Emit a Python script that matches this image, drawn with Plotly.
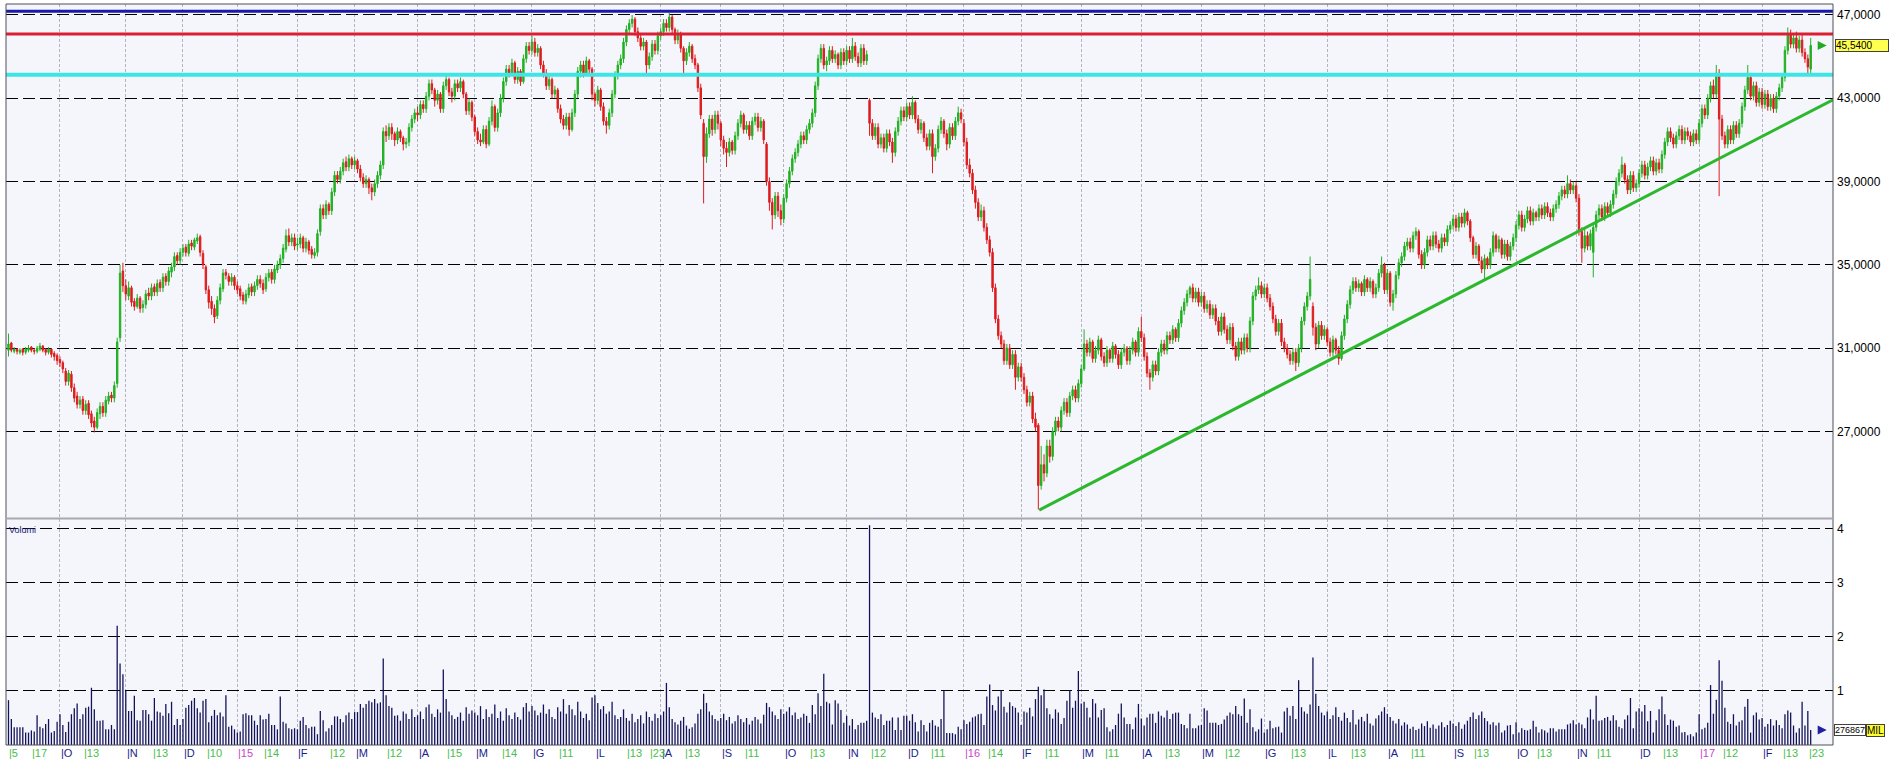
import plotly.graph_objects as go

# ---------------- DATA ----------------
month_names = ["2014-09", "2014-10", "2014-11", "2014-12", "2015-01", "2015-02", "2015-03", "2015-04",
               "2015-05", "2015-06", "2015-07", "2015-08", "2015-09", "2015-10", "2015-11", "2015-12",
               "2016-01", "2016-02", "2016-03", "2016-04", "2016-05", "2016-06", "2016-07", "2016-08",
               "2016-09", "2016-10", "2016-11", "2016-12", "2017-01", "2017-02"]
month_letters = ["", "O", "N", "D", "15", "F", "M", "A", "M", "G", "L", "A", "S", "O", "N", "D",
                 "16", "F", "M", "A", "M", "G", "L", "A", "S", "O", "N", "D", "17", "F"]
year_marks = ["15", "16", "17"]

close_px = [
    [31.20, 30.90, 30.95, 30.85, 30.90, 30.80, 30.95, 31.00, 30.90, 30.85, 31.00, 31.10, 30.90, 30.80, 30.95, 30.70, 30.60, 30.40],
    [30.30, 30.00, 29.40, 29.80, 29.10, 28.60, 28.30, 28.50, 28.00, 28.30, 27.80, 27.40, 27.20, 27.90, 28.20, 27.90, 28.50, 28.70, 28.60, 29.20, 31.30, 34.60, 34.00],
    [33.60, 33.90, 33.20, 33.00, 33.40, 32.90, 33.10, 33.60, 33.50, 33.90, 33.70, 34.10, 33.90, 34.40, 34.20, 34.70, 34.90, 35.40, 35.20, 35.60],
    [35.80, 35.60, 36.00, 35.90, 36.20, 36.30, 35.60, 35.00, 33.80, 33.20, 32.90, 32.50, 33.30, 33.90, 34.60, 34.50, 34.20, 34.40, 34.00],
    [33.80, 33.50, 33.30, 33.60, 33.90, 33.70, 34.00, 34.30, 34.10, 33.80, 34.40, 34.60, 34.30, 34.80, 35.00, 35.30, 35.80, 36.40, 36.10, 36.30, 35.90],
    [36.00, 36.30, 35.80, 36.10, 35.70, 35.50, 35.60, 36.50, 37.70, 37.40, 37.90, 37.60, 38.50, 39.30, 39.10, 39.50, 39.90, 39.70, 40.10, 39.80],
    [40.00, 39.60, 39.20, 38.90, 39.10, 38.70, 38.50, 38.90, 39.30, 39.80, 41.40, 41.20, 41.60, 41.30, 41.00, 41.40, 41.10, 40.80, 40.90, 41.60, 42.00, 42.30],
    [42.20, 42.70, 42.50, 43.10, 43.70, 43.40, 42.90, 43.20, 42.50, 43.60, 43.90, 43.30, 43.10, 43.70, 43.50, 43.80, 43.20, 42.40, 42.80, 42.10],
    [41.40, 41.00, 40.90, 41.50, 40.80, 41.90, 42.60, 41.60, 42.30, 43.00, 43.80, 44.40, 44.20, 44.70, 43.90, 44.30, 43.80, 44.90, 45.50, 45.30],
    [45.70, 45.20, 45.40, 44.60, 44.20, 43.60, 43.90, 43.20, 43.40, 42.50, 42.00, 41.70, 42.10, 41.50, 42.30, 43.20, 44.30, 44.60, 44.20, 44.80, 44.40, 43.20],
    [42.90, 43.40, 42.60, 41.90, 41.70, 42.30, 43.20, 44.10, 44.60, 44.90, 45.70, 46.30, 46.60, 46.80, 46.20, 45.90, 45.50, 45.70, 44.60, 45.00, 45.60, 45.30, 46.00],
    [46.20, 46.60, 46.40, 46.90, 46.30, 45.80, 46.10, 45.40, 44.80, 45.20, 45.50, 44.90, 44.60, 43.50, 42.20, 40.20, 41.30, 42.00, 41.50, 42.20, 41.80],
    [41.00, 40.60, 40.40, 40.90, 40.50, 41.20, 41.80, 42.20, 41.50, 41.70, 41.20, 41.90, 42.10, 41.60, 41.90, 41.00, 39.00, 38.00, 37.40, 38.30, 37.60, 37.20],
    [38.20, 38.90, 39.50, 40.10, 40.40, 40.80, 41.20, 41.00, 41.50, 41.80, 42.30, 43.60, 44.90, 45.40, 44.60, 44.80, 45.30, 44.90, 45.10, 44.60, 45.20, 44.80],
    [45.30, 44.90, 45.50, 45.00, 44.70, 45.40, 44.80, 45.10, 41.80, 41.20, 41.60, 40.80, 41.10, 40.60, 41.30, 40.90, 40.40, 41.40, 41.90, 42.40, 42.10],
    [42.60, 42.20, 42.80, 42.00, 41.50, 41.80, 41.10, 40.70, 41.30, 40.20, 40.60, 41.50, 41.90, 41.30, 40.80, 41.60, 41.20, 41.90, 42.30, 42.00],
    [40.90, 39.80, 39.40, 38.60, 38.00, 37.30, 37.60, 36.80, 36.20, 35.60, 33.90, 32.40, 31.60, 31.20, 30.40, 31.00, 30.20, 30.70, 29.60, 30.10],
    [29.60, 29.00, 28.40, 28.70, 27.60, 27.20, 24.40, 25.40, 25.00, 26.30, 25.80, 27.00, 27.50, 27.20, 28.00, 28.40, 27.90, 28.70, 29.00, 28.60, 29.30],
    [30.00, 31.20, 30.80, 31.30, 30.50, 30.90, 31.40, 30.60, 30.30, 30.90, 30.50, 31.10, 30.70, 30.20, 30.80, 31.00, 30.40, 30.90, 31.30, 30.80, 31.80],
    [31.50, 30.60, 29.80, 29.60, 30.20, 29.90, 30.80, 31.20, 30.90, 31.60, 31.40, 31.90, 31.50, 32.20, 32.80, 33.20, 33.60, 33.90, 33.40, 33.70, 33.20],
    [33.50, 32.90, 33.10, 32.60, 32.90, 32.30, 31.80, 32.50, 31.90, 31.40, 32.00, 31.10, 30.60, 31.30, 30.90, 31.50, 31.00, 32.30, 33.50, 33.80, 34.00, 33.60],
    [33.90, 33.40, 33.00, 32.40, 31.80, 32.20, 31.30, 31.00, 30.70, 30.40, 30.80, 30.30, 31.00, 32.30, 33.00, 33.50, 34.30, 32.00, 31.20, 32.10, 31.60, 31.90],
    [31.30, 30.80, 31.40, 30.90, 30.50, 31.60, 32.40, 33.10, 33.80, 34.20, 33.90, 34.10, 33.70, 34.30, 33.90, 34.20, 33.60, 33.90, 34.60, 35.00, 33.80],
    [34.60, 33.20, 33.60, 34.50, 35.10, 35.40, 35.90, 36.10, 35.80, 36.40, 36.60, 35.50, 35.00, 35.60, 36.20, 35.90, 36.40, 36.00, 35.80, 36.30, 36.10, 36.70, 36.90],
    [37.20, 36.80, 37.30, 37.00, 37.50, 37.10, 36.30, 35.50, 35.90, 35.20, 34.80, 35.30, 35.00, 35.60, 36.40, 35.80, 36.20, 35.50, 36.00, 35.40, 35.90, 36.30],
    [36.90, 37.40, 36.80, 37.20, 37.60, 37.10, 37.50, 37.30, 37.70, 37.40, 37.80, 37.50, 37.30, 37.70, 37.90, 38.30, 38.60, 38.40, 38.90, 38.60, 38.80],
    [38.20, 36.60, 35.80, 36.40, 35.90, 36.50, 36.80, 37.40, 37.70, 37.30, 37.80, 37.50, 37.90, 38.40, 39.00, 39.40, 39.80, 39.10, 38.60, 39.30, 38.70, 38.90],
    [39.40, 39.80, 39.30, 39.70, 40.00, 39.50, 39.90, 39.60, 40.30, 40.90, 41.40, 41.10, 40.80, 41.20, 41.50, 41.00, 41.40, 41.20, 40.90, 41.30, 41.00],
    [41.80, 42.50, 42.20, 43.00, 43.60, 43.20, 44.20, 42.00, 41.20, 40.80, 41.50, 41.00, 41.70, 41.30, 41.80, 42.60, 43.40, 44.00, 43.10, 43.60, 42.80, 43.30],
    [42.70, 43.20, 42.60, 43.00, 42.50, 43.10, 43.50, 44.00, 45.30, 46.10, 45.60, 45.90, 45.40, 45.80, 45.20, 44.90, 44.50, 45.54],
]

open_px = [
    [30.90, 31.25, 30.85, 30.95, 30.80, 30.95, 30.80, 30.90, 31.05, 30.90, 30.85, 30.95, 31.10, 30.95, 30.80, 30.95, 30.75, 30.65],
    [30.45, 30.30, 29.90, 29.40, 29.75, 29.10, 28.70, 28.30, 28.55, 28.00, 28.35, 27.85, 27.50, 27.20, 27.85, 28.20, 27.90, 28.45, 28.75, 28.60, 29.30, 31.50, 34.70],
    [34.00, 33.50, 33.90, 33.25, 33.00, 33.40, 32.95, 33.10, 33.65, 33.50, 33.95, 33.70, 34.15, 33.90, 34.45, 34.20, 34.65, 34.90, 35.45, 35.20],
    [35.60, 35.85, 35.55, 36.05, 35.85, 36.15, 36.35, 35.55, 34.90, 33.80, 33.25, 32.90, 32.55, 33.30, 33.85, 34.65, 34.45, 34.20, 34.40],
    [34.00, 33.85, 33.55, 33.25, 33.55, 33.95, 33.70, 34.00, 34.30, 34.10, 33.85, 34.40, 34.65, 34.30, 34.75, 35.00, 35.30, 35.75, 36.40, 36.10, 36.30],
    [35.95, 36.00, 36.30, 35.80, 36.10, 35.75, 35.45, 35.60, 36.60, 37.70, 37.40, 37.90, 37.60, 38.50, 39.30, 39.10, 39.50, 39.95, 39.70, 40.10],
    [39.80, 40.00, 39.60, 39.20, 38.90, 39.10, 38.70, 38.50, 38.90, 39.30, 39.80, 41.40, 41.20, 41.60, 41.30, 41.00, 41.40, 41.10, 40.80, 40.90, 41.60, 42.00],
    [42.30, 42.20, 42.70, 42.50, 43.10, 43.70, 43.40, 42.90, 43.20, 42.50, 43.60, 43.90, 43.30, 43.10, 43.70, 43.50, 43.80, 43.20, 42.40, 42.80],
    [42.10, 41.40, 41.00, 40.90, 41.50, 40.80, 41.90, 42.60, 41.60, 42.30, 43.00, 43.80, 44.40, 44.20, 44.70, 43.90, 44.30, 43.80, 44.90, 45.50],
    [45.30, 45.70, 45.20, 45.40, 44.60, 44.20, 43.60, 43.90, 43.20, 43.40, 42.50, 42.00, 41.70, 42.10, 41.50, 42.30, 43.20, 44.30, 44.60, 44.20, 44.80, 44.40],
    [43.20, 42.90, 43.40, 42.60, 41.90, 41.70, 42.30, 43.20, 44.10, 44.60, 44.90, 45.70, 46.30, 46.60, 46.80, 46.20, 45.90, 45.50, 45.70, 44.60, 45.00, 45.60, 45.30],
    [46.00, 46.20, 46.60, 46.40, 46.90, 46.30, 45.80, 46.10, 45.40, 44.80, 45.20, 45.50, 44.90, 44.60, 43.50, 41.80, 40.20, 41.30, 42.00, 41.50, 42.20],
    [41.80, 41.00, 40.60, 40.40, 40.90, 40.50, 41.20, 41.80, 42.20, 41.50, 41.70, 41.20, 41.90, 42.10, 41.60, 41.90, 40.80, 39.00, 38.00, 37.40, 38.30, 37.60],
    [37.20, 38.20, 38.90, 39.50, 40.10, 40.40, 40.80, 41.20, 41.00, 41.50, 41.80, 42.30, 43.60, 44.90, 45.40, 44.60, 44.80, 45.30, 44.90, 45.10, 44.60, 45.20],
    [44.80, 45.30, 44.90, 45.50, 45.00, 44.70, 45.40, 44.80, 42.90, 41.80, 41.20, 41.60, 40.80, 41.10, 40.60, 41.30, 40.90, 40.40, 41.40, 41.90, 42.40],
    [42.10, 42.60, 42.20, 42.80, 42.00, 41.50, 41.80, 41.10, 40.70, 41.30, 40.20, 40.60, 41.50, 41.90, 41.30, 40.80, 41.60, 41.20, 41.90, 42.30],
    [41.80, 40.90, 39.80, 39.40, 38.60, 38.00, 37.30, 37.60, 36.80, 36.20, 35.60, 33.90, 32.40, 31.60, 31.20, 30.40, 31.00, 30.20, 30.70, 29.60],
    [30.10, 29.60, 29.00, 28.40, 28.70, 27.60, 27.30, 24.40, 25.40, 25.00, 26.30, 25.80, 27.00, 27.50, 27.20, 28.00, 28.40, 27.90, 28.70, 29.00, 28.60],
    [29.30, 30.00, 31.20, 30.80, 31.30, 30.50, 30.90, 31.40, 30.60, 30.30, 30.90, 30.50, 31.10, 30.70, 30.20, 30.80, 31.00, 30.40, 30.90, 31.30, 30.80],
    [31.80, 31.50, 30.60, 29.80, 29.60, 30.20, 29.90, 30.80, 31.20, 30.90, 31.60, 31.40, 31.90, 31.50, 32.20, 32.80, 33.20, 33.60, 33.90, 33.40, 33.70],
    [33.20, 33.50, 32.90, 33.10, 32.60, 32.90, 32.30, 31.80, 32.50, 31.90, 31.40, 32.00, 31.10, 30.60, 31.30, 30.90, 31.50, 31.00, 32.30, 33.50, 33.80, 34.00],
    [33.60, 33.90, 33.40, 33.00, 32.40, 31.80, 32.20, 31.30, 31.00, 30.70, 30.40, 30.80, 30.30, 31.00, 32.30, 33.00, 33.50, 33.00, 32.00, 31.20, 32.10, 31.60],
    [31.90, 31.30, 30.80, 31.40, 30.90, 30.50, 31.60, 32.40, 33.10, 33.80, 34.20, 33.90, 34.10, 33.70, 34.30, 33.90, 34.20, 33.60, 33.90, 34.60, 35.00],
    [33.80, 34.60, 33.20, 33.60, 34.50, 35.10, 35.40, 35.90, 36.10, 35.80, 36.40, 36.60, 35.50, 35.00, 35.60, 36.20, 35.90, 36.40, 36.00, 35.80, 36.30, 36.10, 36.70],
    [36.90, 37.20, 36.80, 37.30, 37.00, 37.50, 37.10, 36.30, 35.50, 35.90, 35.20, 34.80, 35.30, 35.00, 35.60, 36.40, 35.80, 36.20, 35.50, 36.00, 35.40, 35.90],
    [36.30, 36.90, 37.40, 36.80, 37.20, 37.60, 37.10, 37.50, 37.30, 37.70, 37.40, 37.80, 37.50, 37.30, 37.70, 37.90, 38.30, 38.60, 38.40, 38.90, 38.60],
    [38.80, 38.20, 36.60, 35.80, 36.40, 35.90, 35.60, 36.80, 37.40, 37.70, 37.30, 37.80, 37.50, 37.90, 38.40, 39.00, 39.40, 39.80, 39.10, 38.60, 39.30, 38.70],
    [38.90, 39.40, 39.80, 39.30, 39.70, 40.00, 39.50, 39.90, 39.60, 40.30, 40.90, 41.40, 41.10, 40.80, 41.20, 41.50, 41.00, 41.40, 41.20, 40.90, 41.30],
    [41.00, 41.80, 42.50, 42.20, 43.00, 43.60, 43.20, 44.20, 42.00, 41.20, 40.80, 41.50, 41.00, 41.70, 41.30, 41.80, 42.60, 43.40, 44.00, 43.10, 43.60, 42.80],
    [43.30, 42.70, 43.20, 42.60, 43.00, 42.50, 43.10, 43.50, 44.00, 45.30, 46.10, 45.60, 45.90, 45.40, 45.80, 45.20, 44.90, 44.40],
]

high_px = [
    [31.70, 31.30, 31.05, 31.00, 31.00, 31.00, 31.05, 31.15, 31.10, 31.00, 31.10, 31.25, 31.15, 31.00, 31.05, 31.00, 30.85, 30.75],
    [30.60, 30.40, 30.05, 29.95, 29.90, 29.30, 28.90, 28.70, 28.70, 28.50, 28.50, 28.00, 27.70, 28.10, 28.40, 28.40, 28.70, 28.90, 28.90, 29.40, 31.50, 35.00, 35.10],
    [34.30, 34.20, 34.00, 33.40, 33.60, 33.50, 33.30, 33.80, 33.90, 34.10, 34.10, 34.30, 34.30, 34.60, 34.60, 34.90, 35.10, 35.60, 35.60, 35.80],
    [36.00, 36.00, 36.20, 36.20, 36.30, 36.50, 36.45, 35.70, 35.00, 34.00, 33.50, 33.10, 33.50, 34.10, 34.80, 34.80, 34.60, 34.60, 34.50],
    [34.20, 34.00, 33.70, 33.80, 34.10, 34.10, 34.20, 34.50, 34.50, 34.30, 34.60, 34.80, 34.80, 35.00, 35.20, 35.50, 36.00, 36.70, 36.75, 36.50, 36.50],
    [36.30, 36.50, 36.40, 36.30, 36.20, 35.90, 35.80, 36.70, 37.90, 37.90, 38.10, 38.00, 38.70, 39.50, 39.50, 39.70, 40.10, 40.20, 40.30, 40.20],
    [40.20, 40.10, 39.80, 39.40, 39.30, 39.20, 38.90, 39.10, 39.50, 40.00, 41.60, 41.70, 41.80, 41.80, 41.40, 41.60, 41.50, 41.20, 41.10, 41.80, 42.20, 42.50],
    [42.60, 42.90, 42.90, 43.30, 43.90, 43.90, 43.50, 43.40, 43.30, 43.80, 44.10, 44.00, 43.50, 43.90, 43.90, 44.00, 43.90, 43.30, 43.00, 42.90],
    [42.20, 41.60, 41.30, 41.70, 41.70, 42.10, 42.90, 42.70, 42.50, 43.20, 44.00, 44.60, 44.60, 44.90, 44.80, 44.50, 44.40, 45.10, 45.70, 45.70],
    [46.00, 45.90, 45.60, 45.50, 44.80, 44.40, 44.10, 44.00, 43.60, 43.50, 42.70, 42.20, 42.30, 42.30, 42.50, 43.40, 44.50, 44.80, 44.80, 45.00, 44.90, 44.50],
    [43.30, 43.60, 43.50, 42.80, 42.10, 42.50, 43.40, 44.30, 44.80, 45.10, 45.90, 46.50, 46.80, 47.00, 46.90, 46.40, 46.10, 45.90, 45.80, 45.20, 45.80, 45.80, 46.20],
    [46.40, 46.80, 46.80, 47.10, 47.00, 46.40, 46.30, 46.20, 45.50, 45.40, 45.70, 45.60, 45.10, 44.70, 43.70, 42.00, 41.60, 42.20, 42.20, 42.40, 42.40],
    [41.90, 41.20, 40.90, 41.10, 41.00, 41.40, 42.00, 42.40, 42.30, 41.90, 41.90, 42.10, 42.30, 42.30, 42.10, 42.00, 40.90, 39.20, 38.20, 38.50, 38.50, 37.90],
    [38.40, 39.10, 39.70, 40.30, 40.60, 41.00, 41.40, 41.40, 41.70, 42.00, 42.50, 43.80, 45.10, 45.60, 45.60, 45.00, 45.50, 45.50, 45.30, 45.20, 45.40, 45.40],
    [45.50, 45.50, 45.90, 45.70, 45.20, 45.60, 45.60, 45.30, 43.00, 42.00, 41.80, 41.80, 41.30, 41.30, 41.50, 41.50, 41.10, 41.60, 42.10, 42.60, 42.60],
    [42.80, 42.80, 43.10, 42.90, 42.20, 42.00, 41.90, 41.30, 41.50, 41.50, 40.80, 41.70, 42.10, 42.00, 41.50, 41.80, 41.80, 42.10, 42.60, 42.50],
    [42.00, 41.10, 40.10, 39.60, 38.80, 38.20, 37.90, 37.80, 37.00, 36.40, 35.80, 34.10, 32.60, 31.80, 31.40, 31.20, 31.20, 30.90, 30.90, 30.30],
    [30.30, 29.80, 29.20, 28.90, 28.90, 27.90, 27.40, 26.30, 25.90, 26.60, 26.60, 27.20, 27.70, 27.70, 28.20, 28.60, 28.60, 28.90, 29.20, 29.20, 29.50],
    [30.20, 31.90, 31.40, 31.50, 31.40, 31.10, 31.60, 31.50, 30.80, 31.10, 31.00, 31.30, 31.20, 30.90, 31.00, 31.20, 31.10, 31.10, 31.50, 31.40, 32.00],
    [32.50, 31.70, 30.80, 30.00, 30.40, 30.40, 31.00, 31.40, 31.40, 31.80, 31.80, 32.10, 32.00, 32.40, 33.00, 33.40, 33.80, 34.00, 34.10, 33.90, 33.90],
    [33.70, 33.70, 33.30, 33.30, 33.10, 33.10, 32.50, 32.70, 32.70, 32.10, 32.20, 32.20, 31.30, 31.50, 31.50, 31.70, 31.70, 32.50, 33.70, 34.00, 34.40, 34.20],
    [34.10, 34.10, 33.60, 33.20, 32.60, 32.40, 32.40, 31.50, 31.20, 30.90, 31.00, 31.00, 31.20, 32.50, 33.20, 33.70, 35.40, 33.20, 32.20, 32.30, 32.30, 32.10],
    [32.00, 31.50, 31.60, 31.50, 31.10, 31.80, 32.60, 33.30, 34.00, 34.40, 34.40, 34.30, 34.20, 34.50, 34.40, 34.40, 34.30, 34.10, 34.80, 35.40, 35.10],
    [34.80, 34.70, 33.80, 34.70, 35.30, 35.60, 36.10, 36.30, 36.30, 36.60, 36.80, 36.70, 35.70, 35.80, 36.40, 36.40, 36.60, 36.60, 36.20, 36.50, 36.50, 36.90, 37.10],
    [37.40, 37.40, 37.50, 37.50, 37.70, 37.60, 37.20, 36.40, 36.10, 36.00, 35.40, 35.50, 35.40, 35.80, 36.60, 36.50, 36.40, 36.30, 36.20, 36.20, 36.10, 36.50],
    [37.10, 37.60, 37.60, 37.40, 37.80, 37.80, 37.70, 37.60, 37.90, 37.90, 38.00, 38.00, 37.70, 37.90, 38.10, 38.50, 38.80, 38.80, 39.30, 39.10, 39.00],
    [39.00, 38.40, 36.80, 36.80, 36.60, 36.70, 37.00, 37.60, 37.90, 37.90, 38.00, 38.00, 38.10, 38.60, 39.20, 39.60, 40.20, 39.90, 39.30, 39.50, 39.50, 39.10],
    [39.60, 40.00, 40.00, 39.90, 40.20, 40.20, 40.10, 40.10, 40.50, 41.10, 41.60, 41.60, 41.30, 41.40, 41.70, 41.70, 41.60, 41.60, 41.40, 41.50, 41.50],
    [42.00, 42.70, 42.70, 43.20, 43.80, 43.90, 44.60, 44.40, 42.20, 41.40, 41.70, 41.70, 41.90, 41.90, 42.00, 42.80, 43.60, 44.60, 44.20, 43.80, 43.80, 43.50],
    [43.50, 43.40, 43.40, 43.20, 43.20, 43.30, 43.70, 44.20, 45.50, 46.40, 46.30, 46.10, 46.20, 46.00, 46.10, 45.40, 45.10, 45.90],
]

low_px = [
    [30.60, 30.80, 30.75, 30.70, 30.70, 30.65, 30.70, 30.80, 30.80, 30.70, 30.75, 30.85, 30.80, 30.65, 30.70, 30.55, 30.40, 30.20],
    [30.10, 29.80, 29.20, 29.20, 28.90, 28.40, 28.10, 28.10, 27.80, 27.80, 27.60, 27.20, 26.95, 27.10, 27.60, 27.70, 27.70, 28.30, 28.40, 28.40, 29.10, 31.30, 33.70],
    [33.30, 33.30, 33.00, 32.80, 32.90, 32.70, 32.70, 32.90, 33.30, 33.30, 33.50, 33.50, 33.70, 33.70, 34.00, 34.00, 34.40, 34.70, 35.00, 35.00],
    [35.40, 35.40, 35.40, 35.70, 35.70, 36.00, 35.40, 34.80, 33.60, 32.90, 32.60, 32.20, 32.40, 33.10, 33.70, 34.30, 34.00, 34.00, 33.80],
    [33.60, 33.30, 33.10, 33.10, 33.40, 33.50, 33.50, 33.80, 33.90, 33.60, 33.70, 34.20, 34.10, 34.10, 34.60, 34.80, 35.10, 35.60, 35.90, 35.90, 35.70],
    [35.70, 35.80, 35.60, 35.60, 35.50, 35.30, 35.30, 35.40, 36.40, 37.20, 37.20, 37.40, 37.40, 38.30, 38.90, 38.90, 39.30, 39.50, 39.50, 39.60],
    [39.60, 39.40, 39.00, 38.70, 38.70, 38.40, 38.10, 38.30, 38.70, 39.10, 39.60, 40.90, 41.00, 41.00, 40.70, 40.80, 40.90, 40.50, 40.60, 40.70, 41.40, 41.80],
    [41.90, 42.00, 42.30, 42.30, 42.90, 43.20, 42.60, 42.70, 42.30, 42.30, 43.40, 43.10, 42.80, 42.90, 43.30, 43.30, 43.00, 42.20, 42.20, 41.90],
    [41.20, 40.80, 40.70, 40.80, 40.60, 40.70, 41.70, 41.40, 41.40, 42.10, 42.80, 43.60, 44.00, 44.10, 43.70, 43.70, 43.60, 43.70, 44.70, 45.10],
    [45.10, 45.00, 45.00, 44.40, 44.00, 43.40, 43.40, 43.00, 43.00, 42.30, 41.80, 41.50, 41.50, 41.20, 41.40, 42.10, 43.00, 44.00, 44.00, 44.10, 44.20, 42.90],
    [42.60, 42.70, 42.40, 41.70, 41.30, 41.50, 42.10, 43.00, 43.90, 44.40, 44.70, 45.50, 46.10, 46.40, 46.00, 45.70, 45.30, 45.30, 44.10, 44.40, 44.80, 45.10, 45.10],
    [45.80, 46.00, 46.20, 46.20, 46.10, 45.60, 45.60, 45.20, 44.20, 44.60, 45.00, 44.70, 44.40, 43.30, 42.00, 37.95, 39.90, 41.10, 41.20, 41.30, 41.50],
    [40.70, 40.30, 39.70, 40.20, 40.30, 40.30, 41.00, 41.60, 41.30, 41.30, 41.00, 41.00, 41.70, 41.40, 41.40, 40.80, 38.80, 37.60, 36.70, 37.20, 37.30, 36.90],
    [37.00, 38.00, 38.70, 39.30, 39.90, 40.20, 40.60, 40.80, 40.80, 41.30, 41.60, 42.10, 43.40, 44.70, 44.40, 44.30, 44.60, 44.70, 44.70, 44.40, 44.40, 44.60],
    [44.60, 44.70, 44.70, 44.80, 44.50, 44.50, 44.60, 44.60, 41.20, 41.00, 41.00, 40.60, 40.60, 40.40, 40.40, 40.70, 39.90, 40.20, 41.20, 41.70, 41.90],
    [41.90, 42.00, 42.00, 41.80, 41.30, 41.30, 40.90, 40.50, 40.50, 39.40, 40.00, 40.40, 41.30, 41.10, 40.50, 40.60, 41.00, 41.00, 41.70, 41.80],
    [40.70, 39.60, 39.20, 38.40, 37.70, 37.10, 37.10, 36.60, 36.00, 35.40, 33.70, 32.20, 31.40, 31.00, 30.20, 30.20, 30.00, 30.00, 29.00, 29.40],
    [29.40, 28.80, 28.20, 28.20, 27.40, 27.00, 23.25, 24.20, 24.60, 24.80, 25.50, 25.60, 26.80, 27.00, 27.00, 27.80, 27.70, 27.70, 28.50, 28.40, 28.40],
    [29.10, 29.90, 30.60, 30.60, 30.30, 30.30, 30.70, 30.40, 30.10, 30.10, 30.30, 30.30, 30.50, 30.00, 30.00, 30.60, 30.20, 30.20, 30.70, 30.60, 30.60],
    [31.30, 30.40, 29.60, 29.00, 29.40, 29.70, 29.70, 30.60, 30.70, 30.70, 31.20, 31.20, 31.30, 31.30, 32.00, 32.60, 33.00, 33.40, 33.20, 33.20, 33.00],
    [33.00, 32.70, 32.70, 32.40, 32.40, 32.10, 31.60, 31.60, 31.70, 31.20, 31.20, 30.90, 30.40, 30.40, 30.70, 30.70, 30.80, 30.80, 32.10, 33.30, 33.60, 33.40],
    [33.40, 33.20, 32.80, 32.20, 31.60, 31.60, 31.10, 30.80, 30.50, 30.20, 30.20, 29.90, 30.10, 30.80, 32.10, 32.80, 33.30, 31.60, 30.90, 31.00, 31.40, 31.40],
    [31.10, 30.60, 30.60, 30.70, 30.20, 30.40, 31.40, 32.20, 32.90, 33.60, 33.70, 33.70, 33.50, 33.50, 33.70, 33.70, 33.40, 33.40, 33.70, 34.40, 33.60],
    [33.60, 33.00, 32.80, 33.40, 34.30, 34.90, 35.20, 35.70, 35.60, 35.60, 36.20, 35.30, 34.80, 34.80, 35.40, 35.70, 35.70, 35.80, 35.60, 35.60, 35.90, 35.90, 36.50],
    [36.70, 36.60, 36.60, 36.80, 36.80, 36.90, 36.10, 35.30, 35.30, 35.00, 34.60, 34.30, 34.80, 34.80, 35.40, 35.60, 35.60, 35.30, 35.30, 35.20, 35.20, 35.70],
    [36.10, 36.70, 36.60, 36.60, 37.00, 36.90, 36.90, 37.10, 37.10, 37.20, 37.20, 37.30, 37.10, 37.10, 37.50, 37.70, 38.10, 38.20, 38.20, 38.40, 38.40],
    [38.00, 36.40, 35.10, 35.60, 35.70, 35.70, 34.40, 36.60, 37.20, 37.10, 37.10, 37.30, 37.30, 37.70, 38.20, 38.80, 39.20, 38.90, 38.40, 38.40, 38.50, 38.50],
    [38.70, 39.20, 39.10, 39.10, 39.50, 39.30, 39.30, 39.40, 39.40, 40.10, 40.70, 40.90, 40.60, 40.60, 41.00, 40.80, 40.80, 41.00, 40.70, 40.70, 40.80],
    [40.80, 41.60, 42.00, 42.00, 42.80, 43.00, 43.00, 38.30, 41.00, 40.60, 40.60, 40.80, 40.80, 41.10, 41.10, 41.60, 42.40, 43.20, 42.90, 42.90, 42.60, 42.60],
    [42.50, 42.50, 42.40, 42.40, 42.30, 42.30, 42.90, 43.30, 43.80, 45.10, 45.40, 45.40, 45.20, 45.20, 45.00, 44.70, 44.10, 44.20],
]

volume_mil = [
    [0.83, 0.48, 0.33, 0.33, 0.33, 0.33, 0.23, 0.23, 0.27, 0.25, 0.55, 0.34, 0.31, 0.39, 0.48, 0.23, 0.26, 0.43],
    [0.57, 0.37, 0.24, 0.43, 0.57, 0.68, 0.77, 0.48, 0.57, 0.69, 0.71, 1.06, 0.66, 0.45, 0.45, 0.46, 0.29, 0.29, 0.37, 0.29, 2.21, 1.51, 1.31],
    [1.01, 0.63, 0.63, 0.91, 0.46, 0.45, 0.65, 0.65, 0.57, 0.45, 0.87, 0.62, 0.60, 0.54, 0.76, 0.59, 0.80, 0.37, 0.48, 0.37],
    [0.48, 0.69, 0.74, 0.82, 0.87, 0.68, 0.60, 0.82, 0.85, 0.42, 0.54, 0.65, 0.55, 0.60, 0.53, 0.92, 0.34, 0.36, 0.29],
    [0.23, 0.25, 0.57, 0.59, 0.55, 0.55, 0.45, 0.37, 0.55, 0.47, 0.48, 0.58, 0.37, 0.37, 0.29, 0.90, 0.43, 0.40, 0.31, 0.29, 0.31],
    [0.29, 0.45, 0.52, 0.37, 0.31, 0.34, 0.34, 0.20, 0.63, 0.46, 0.25, 0.31, 0.37, 0.53, 0.53, 0.48, 0.42, 0.55, 0.60, 0.48],
    [0.61, 0.61, 0.76, 0.69, 0.76, 0.82, 0.79, 0.85, 0.77, 0.79, 1.60, 0.92, 0.72, 0.69, 0.54, 0.55, 0.45, 0.62, 0.58, 0.48, 0.66, 0.52],
    [0.55, 0.62, 0.48, 0.70, 0.75, 0.58, 0.52, 0.66, 0.60, 1.40, 0.85, 0.62, 0.55, 0.48, 0.52, 0.60, 0.45, 0.70, 0.58, 0.64],
    [0.60, 0.55, 0.72, 0.48, 0.66, 0.52, 0.58, 0.75, 0.50, 0.62, 0.45, 0.68, 0.55, 0.48, 0.60, 0.52, 0.47, 0.70, 0.78, 0.62],
    [0.72, 0.64, 0.55, 0.60, 0.75, 0.58, 0.66, 0.52, 0.48, 0.70, 0.62, 0.85, 0.58, 0.74, 0.66, 0.55, 0.80, 0.62, 0.50, 0.58, 0.46, 0.88],
    [0.92, 0.78, 0.66, 0.72, 0.58, 0.62, 0.80, 0.55, 0.48, 0.52, 0.66, 0.50, 0.45, 0.58, 0.42, 0.48, 0.55, 0.40, 0.62, 0.52, 0.45, 0.58, 0.50],
    [0.55, 0.62, 1.15, 0.70, 0.48, 0.42, 0.38, 0.45, 0.52, 0.36, 0.30, 0.33, 0.40, 0.58, 0.66, 0.95, 0.78, 0.62, 0.55, 0.48, 0.45],
    [0.50, 0.58, 0.46, 0.52, 0.40, 0.44, 0.55, 0.48, 0.42, 0.50, 0.38, 0.45, 0.52, 0.47, 0.40, 0.56, 0.78, 0.70, 0.62, 0.55, 0.48, 0.66],
    [0.58, 0.62, 0.70, 0.55, 0.60, 0.48, 0.51, 0.58, 0.54, 0.41, 0.74, 0.57, 0.96, 0.72, 1.32, 0.80, 0.77, 0.38, 0.83, 0.77, 0.65, 0.41],
    [0.54, 0.36, 0.48, 0.29, 0.37, 0.41, 0.41, 0.45, 4.07, 0.60, 0.51, 0.48, 0.57, 0.37, 0.45, 0.45, 0.51, 0.28, 0.51, 0.28, 0.54],
    [0.54, 0.45, 0.57, 0.42, 0.25, 0.46, 0.37, 0.25, 0.41, 0.46, 0.36, 0.34, 0.48, 1.00, 0.22, 0.22, 0.22, 0.20, 0.34, 0.29],
    [0.46, 0.39, 0.43, 0.51, 0.53, 0.57, 0.58, 0.37, 0.90, 1.12, 0.74, 0.64, 0.90, 1.00, 0.71, 0.60, 0.79, 0.72, 0.69, 0.60],
    [0.37, 0.62, 0.60, 0.69, 0.53, 0.85, 1.08, 0.92, 1.03, 0.68, 0.57, 0.49, 0.66, 0.60, 0.39, 0.50, 0.82, 1.02, 0.69, 0.82, 1.37],
    [0.77, 0.80, 0.69, 0.51, 0.85, 0.77, 0.51, 0.65, 0.68, 0.33, 0.25, 0.29, 0.37, 0.58, 0.77, 0.51, 0.39, 0.39, 0.29, 0.51, 0.76],
    [0.49, 0.36, 0.51, 0.58, 0.58, 0.41, 0.62, 0.54, 0.51, 0.64, 0.48, 0.58, 0.60, 0.60, 0.39, 0.37, 0.31, 0.58, 0.31, 0.31, 0.36],
    [0.37, 0.68, 0.64, 0.41, 0.41, 0.41, 0.37, 0.39, 0.47, 0.54, 0.60, 0.57, 0.72, 0.57, 0.54, 0.86, 0.41, 0.66, 0.33, 0.25, 0.29, 0.49],
    [0.23, 0.29, 0.45, 0.31, 0.33, 0.34, 0.23, 0.62, 0.69, 0.54, 0.72, 0.48, 1.20, 0.70, 0.62, 0.58, 0.75, 1.62, 0.95, 0.72, 0.60, 0.55],
    [0.62, 0.48, 0.55, 0.70, 0.52, 0.45, 0.60, 0.50, 0.42, 0.65, 0.38, 0.47, 0.52, 0.44, 0.58, 0.40, 0.36, 0.49, 0.55, 0.62, 0.70],
    [0.58, 0.52, 0.45, 0.40, 0.48, 0.36, 0.42, 0.38, 0.30, 0.34, 0.28, 0.30, 0.40, 0.35, 0.44, 0.32, 0.38, 0.30, 0.36, 0.42, 0.33, 0.37, 0.45],
    [0.40, 0.35, 0.42, 0.30, 0.38, 0.45, 0.52, 0.60, 0.48, 0.55, 0.62, 0.50, 0.44, 0.38, 0.42, 0.36, 0.41, 0.23, 0.27, 0.36, 0.37, 0.20],
    [0.42, 0.23, 0.31, 0.28, 0.27, 0.29, 0.45, 0.34, 0.23, 0.29, 0.27, 0.23, 0.31, 0.31, 0.25, 0.29, 0.29, 0.29, 0.38, 0.40, 0.46],
    [0.38, 0.41, 0.38, 0.31, 0.51, 0.66, 0.47, 0.91, 0.45, 0.46, 0.50, 0.52, 0.45, 0.55, 0.46, 0.34, 0.31, 0.47, 0.55, 0.87, 0.31, 0.62],
    [0.68, 0.62, 0.74, 0.44, 0.63, 0.23, 0.46, 0.66, 0.90, 0.57, 0.37, 0.47, 0.45, 0.34, 0.36, 0.23, 0.24, 0.18, 0.20, 0.16, 0.23],
    [0.57, 0.29, 0.32, 0.41, 1.11, 0.58, 0.84, 1.57, 1.19, 0.69, 0.43, 0.39, 0.57, 0.36, 0.43, 0.46, 0.71, 0.85, 0.23, 0.55, 0.60, 0.47],
    [0.50, 0.34, 0.39, 0.48, 0.36, 0.46, 0.37, 0.31, 0.57, 0.64, 0.60, 0.36, 0.23, 0.31, 0.80, 0.36, 0.63, 0.277],
]

# mid-month day labels: (bar index, label)
day_label_idx = [0, 8, 26, 50, 69, 89, 112, 132, 153, 172, 192, 216, 224, 236, 257, 280, 301, 322,
                 342, 362, 383, 404, 425, 448, 469, 490, 512, 534, 555, 578, 599, 620, 629]
day_label_txt = ["5", "17", "13", "13", "10", "14", "12", "12", "15", "14", "11", "13", "23", "13", "11", "13", "12", "11",
                 "14", "11", "11", "13", "12", "13", "13", "11", "13", "13", "11", "13", "12", "13", "23"]

# horizontal levels and trend line
level_values = [47.18, 46.09, 44.13]
level_colors = ["#1a1aa8", "#dc1e32", "#3ce6e6"]
level_widths = [3, 3, 4]
trend_x = [360.3, 637.8]
trend_y = [23.22, 42.93]
last_price_label = "45,5400"
last_volume_label = "276867"

# ---------------- CHECK & FLATTEN ----------------
for i in range(len(month_names)):
    lens = [len(a[i]) for a in (open_px, high_px, low_px, close_px, volume_mil)]
    if len(set(lens)) != 1:
        raise ValueError(f"month {month_names[i]} lengths O,H,L,C,V = {lens}")

opens = [v for m in open_px for v in m]
highs = [v for m in high_px for v in m]
lows = [v for m in low_px for v in m]
closes = [v for m in close_px for v in m]
vols = [v for m in volume_mil for v in m]
n = len(closes)
x = list(range(n))

month_start = []
acc = 0
for m in close_px:
    month_start.append(acc)
    acc += len(m)

x_range = [-0.87, 637.8]
main_range = [22.84, 47.528]
vol_range = [0, 4.185]

fig = go.Figure()

fig.add_trace(go.Candlestick(
    x=x, open=opens, high=highs, low=lows, close=closes,
    increasing=dict(line=dict(color="#22b022", width=1), fillcolor="#22b022"),
    decreasing=dict(line=dict(color="#dd1c1c", width=1), fillcolor="#dd1c1c"),
    whiskerwidth=0, xaxis="x", yaxis="y", showlegend=False, hoverinfo="skip"))

fig.add_trace(go.Bar(x=x, y=vols, xaxis="x2", yaxis="y2", width=0.45,
                     marker=dict(color="#121258", line=dict(width=0)), showlegend=False, hoverinfo="skip"))

for val, col, w in zip(level_values, level_colors, level_widths):
    fig.add_trace(go.Scatter(x=x_range, y=[val, val], mode="lines", line=dict(color=col, width=w),
                             xaxis="x", yaxis="y", showlegend=False, hoverinfo="skip"))

fig.add_trace(go.Scatter(x=trend_x, y=trend_y, mode="lines", line=dict(color="#2cb82c", width=3),
                         xaxis="x", yaxis="y", showlegend=False, hoverinfo="skip"))

# last price / last volume markers
fig.add_trace(go.Scatter(x=[635.6], y=[closes[-1]], mode="markers",
                         marker=dict(symbol="arrow-right", size=9, color="#22aa22"),
                         xaxis="x", yaxis="y", showlegend=False, hoverinfo="skip", cliponaxis=False))
fig.add_trace(go.Scatter(x=[635.6], y=[vols[-1]], mode="markers",
                         marker=dict(symbol="arrow-right", size=9, color="#2020a0"),
                         xaxis="x2", yaxis="y2", showlegend=False, hoverinfo="skip", cliponaxis=False))

grid_x = month_start[1:]
xcommon = dict(range=x_range, showticklabels=False, ticks="", tickvals=grid_x, showgrid=True,
               gridcolor="#b4b4c0", griddash="3px,2px", gridwidth=1, zeroline=False, showline=False,
               fixedrange=True)
fig.update_layout(
    width=1890, height=762,
    margin=dict(l=6, r=57, t=4, b=17),
    paper_bgcolor="white", plot_bgcolor="#f5f5fc",
    xaxis=dict(anchor="y", rangeslider=dict(visible=False), **xcommon),
    xaxis2=dict(anchor="y2", matches="x", rangeslider=dict(visible=False), **xcommon),
    yaxis=dict(domain=[0.3063, 1.0], range=main_range, side="right",
               tickvals=[27, 31, 35, 39, 43, 47],
               ticktext=["27,0000", "31,0000", "35,0000", "39,0000", "43,0000", "47,0000"],
               showgrid=True, gridcolor="#000000", griddash="12px,5px", gridwidth=1,
               zeroline=False, ticks="", tickfont=dict(family="Liberation Sans", size=12, color="#000"),
               ticklabelstandoff=3),
    yaxis2=dict(domain=[0.0, 0.305], range=vol_range, side="right",
                tickvals=[1, 2, 3, 4], ticktext=["1", "2", "3", "4"],
                showgrid=True, gridcolor="#000000", griddash="12px,5px", gridwidth=1,
                zeroline=False, ticks="", tickfont=dict(family="Liberation Sans", size=12, color="#000"),
                ticklabelstandoff=3),
    showlegend=False,
    font=dict(family="Liberation Sans"),
)

shapes = [
    dict(type="rect", xref="paper", yref="paper", x0=0, x1=1, y0=0, y1=1,
         line=dict(color="#505058", width=1), layer="above"),
    dict(type="line", xref="paper", yref="paper", x0=0, x1=1, y0=0.3057, y1=0.3057,
         line=dict(color="#a8a8b0", width=2), layer="above"),
]
fig.update_layout(shapes=shapes)

ann = []
for i, s in enumerate(month_start):
    if i == 0:
        continue
    lab = month_letters[i]
    col = "#cc44cc" if lab in year_marks else "#1c1c8c"
    ann.append(dict(x=s - 0.35, y=0, xref="x", yref="paper", text="|" + lab, showarrow=False,
                    xanchor="left", yanchor="middle", yshift=-8, font=dict(size=11, color=col, family="Liberation Sans")))
for idx, t in zip(day_label_idx, day_label_txt):
    ann.append(dict(x=idx - 0.35, y=0, xref="x", yref="paper", text="|" + t, showarrow=False,
                    xanchor="left", yanchor="middle", yshift=-8, font=dict(size=11, color="#48c048", family="Liberation Sans")))

ann.append(dict(x=1, y=closes[-1], xref="paper", yref="y", text=last_price_label, showarrow=False,
                xanchor="left", yanchor="middle", xshift=2, width=52, align="left", bgcolor="#ffff50",
                bordercolor="#404040", borderwidth=1, borderpad=0,
                font=dict(size=10, color="#000", family="Liberation Sans")))
ann.append(dict(x=1, y=vols[-1], xref="paper", yref="y2", text=last_volume_label, showarrow=False,
                xanchor="left", yanchor="middle", xshift=1, bgcolor="#ffffff", bordercolor="#404040",
                borderwidth=1, borderpad=0, font=dict(size=9, color="#000", family="Liberation Sans")))
ann.append(dict(x=1, y=vols[-1], xref="paper", yref="y2", text="MIL", showarrow=False,
                xanchor="left", yanchor="middle", xshift=33, bgcolor="#ffff30", bordercolor="#404040",
                borderwidth=1, borderpad=0, font=dict(size=10, color="#000", family="Liberation Sans")))
ann.append(dict(x=0, y=vol_range[1], xref="paper", yref="y2", text="Volumi", showarrow=False,
                xanchor="left", yanchor="top", xshift=1, yshift=-4,
                font=dict(size=9, color="#20206e", family="Liberation Sans")))
fig.update_layout(annotations=ann)

fig.write_html("out.html", config={"displayModeBar": False, "staticPlot": True},
               post_script="document.body.style.margin='0';document.documentElement.style.overflow='hidden';")
